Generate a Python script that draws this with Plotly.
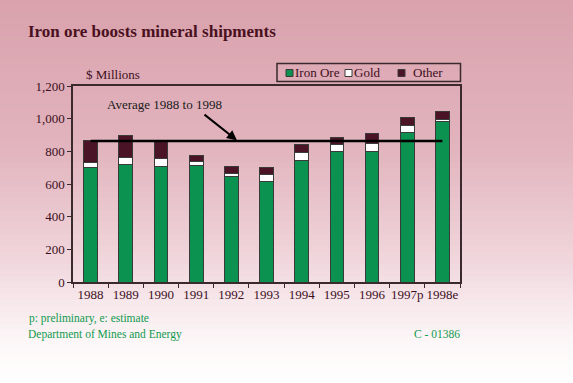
import plotly.graph_objects as go

years = ["1988", "1989", "1990", "1991", "1992", "1993", "1994", "1995", "1996", "1997p", "1998e"]
iron_ore = [698, 722, 708, 714, 647, 618, 745, 798, 800, 918, 984]
gold = [35, 39, 47, 21, 16, 41, 47, 43, 47, 41, 10]
other = [134, 135, 108, 38, 45, 41, 49, 43, 65, 47, 47]
series_names = ["Iron Ore", "Gold", "Other"]
y_ticks = [0, 200, 400, 600, 800, 1000, 1200]

totals = [a + b + c for a, b, c in zip(iron_ore, gold, other)]
average = sum(totals) / len(totals)

W, H = 573, 383
L, R, T, B = 73, 113, 58, 101
PLOT_TOP = 86
pw, ph = W - L - R, H - T - B

def px_x(px):
    return (px - L) / pw

def px_y(py):
    return (H - B - py) / ph

y_domain_top = (H - B - PLOT_TOP) / ph

# background gradient stops (pixel y, rgb)
stops = [(0, (217, 162, 173)), (150, (226, 180, 190)), (250, (239, 211, 217)),
         (340, (252, 246, 247)), (383, (255, 255, 255))]

def col_at(y):
    for (y0, c0), (y1, c1) in zip(stops[:-1], stops[1:]):
        if y0 <= y <= y1:
            t = (y - y0) / (y1 - y0)
            return "rgb(%d,%d,%d)" % tuple(round(a + (b - a) * t) for a, b in zip(c0, c1))
    return "rgb(255,255,255)"

shapes = []
step = 6
for y in range(0, H, step):
    shapes.append(dict(type="rect", xref="paper", yref="paper", x0=px_x(0), x1=px_x(W),
                       y0=px_y(y + step), y1=px_y(y),
                       fillcolor=col_at(y + step / 2), line=dict(width=0), layer="below"))

line_col = "#3a2a2e"
text_col = "#3d0f1d"
green = "#0b9150"
dark = "#4b1426"
colors = [green, "white", dark]
edge = "#3a3a3a"
foot_col = "#119a4e"

fig = go.Figure()
for vals, name, c in zip([iron_ore, gold, other], series_names, colors):
    fig.add_trace(go.Bar(x=years, y=vals, name=name, showlegend=False,
                         marker=dict(color=c, line=dict(color=edge, width=1))))
fig.add_trace(go.Scatter(x=[years[0], years[-1]], y=[average, average], mode="lines",
                         line=dict(color="black", width=2.5), showlegend=False, hoverinfo="skip"))

# manual legend box
shapes.append(dict(type="rect", xref="paper", yref="paper", x0=px_x(277), x1=px_x(460.5),
                   y0=px_y(81.5), y1=px_y(63.5), line=dict(color=line_col, width=1.5),
                   fillcolor="rgba(0,0,0,0)"))
legend_sq_x = [286, 345, 398]
legend_tx_x = [293, 352, 411]
ann = []
for sx, tx, name, c in zip(legend_sq_x, legend_tx_x, series_names, colors):
    shapes.append(dict(type="rect", xref="paper", yref="paper", x0=px_x(sx), x1=px_x(sx + 7),
                       y0=px_y(76.5), y1=px_y(69.5), fillcolor=c, line=dict(color=edge, width=1)))
    ann.append(dict(text=name, xref="paper", yref="paper", x=px_x(tx), y=px_y(72.5),
                    xanchor="left", yanchor="middle", showarrow=False,
                    font=dict(size=13, color=text_col)))

ann += [
    dict(text="$ Millions", xref="paper", yref="paper", x=px_x(84), y=px_y(75),
         xanchor="left", yanchor="middle", showarrow=False, font=dict(size=13, color=text_col)),
    dict(text="Average 1988 to 1998", xref="paper", yref="paper", x=px_x(105), y=px_y(104),
         xanchor="left", yanchor="middle", showarrow=False, font=dict(size=13, color="#1a1a1a")),
    dict(text="", xref="paper", yref="y", x=px_x(237), y=average + 4, ax=-34, ay=-27,
         showarrow=True, arrowhead=2, arrowsize=1, arrowwidth=2, arrowcolor="black"),
    dict(text="p: preliminary, e: estimate", xref="paper", yref="paper", x=px_x(27), y=px_y(318),
         xanchor="left", yanchor="middle", showarrow=False, font=dict(size=11.5, color=foot_col)),
    dict(text="Department of Mines and Energy", xref="paper", yref="paper", x=px_x(26), y=px_y(334),
         xanchor="left", yanchor="middle", showarrow=False, font=dict(size=11.5, color=foot_col)),
    dict(text="C - 01386", xref="paper", yref="paper", x=px_x(462), y=px_y(334),
         xanchor="right", yanchor="middle", showarrow=False, font=dict(size=11.5, color=foot_col)),
]

fig.update_layout(
    width=W, height=H,
    margin=dict(l=L, r=R, t=T, b=B, pad=0),
    paper_bgcolor="white", plot_bgcolor="rgba(0,0,0,0)",
    barmode="stack", bargap=0.61,
    font=dict(family="Liberation Serif, Times New Roman, serif", size=13, color=text_col),
    title=dict(text="<b>Iron ore boosts mineral shipments</b>", x=28 / W, xanchor="left",
               y=1 - 31 / H, yanchor="middle", font=dict(size=17, color="#4a1020")),
    showlegend=False,
    shapes=shapes,
    annotations=ann,
    xaxis=dict(showline=True, linecolor=line_col, linewidth=1.5, mirror=True, tickangle=0,
               ticks="outside", ticklen=4, tickcolor=line_col, tickson="boundaries",
               showgrid=False, tickfont=dict(size=13, color=text_col)),
    yaxis=dict(domain=[0, y_domain_top], range=[0, 1200], tickvals=y_ticks, tickformat=",",
               showline=True, linecolor=line_col,
               linewidth=1.5, mirror=True, ticks="outside", ticklen=4, tickcolor=line_col,
               showgrid=False, zeroline=False, tickfont=dict(size=13, color=text_col)),
)

fig.write_html("out.html", config={"displayModeBar": False},
               post_script="document.body.style.margin='0px';document.body.style.overflow='hidden';")
